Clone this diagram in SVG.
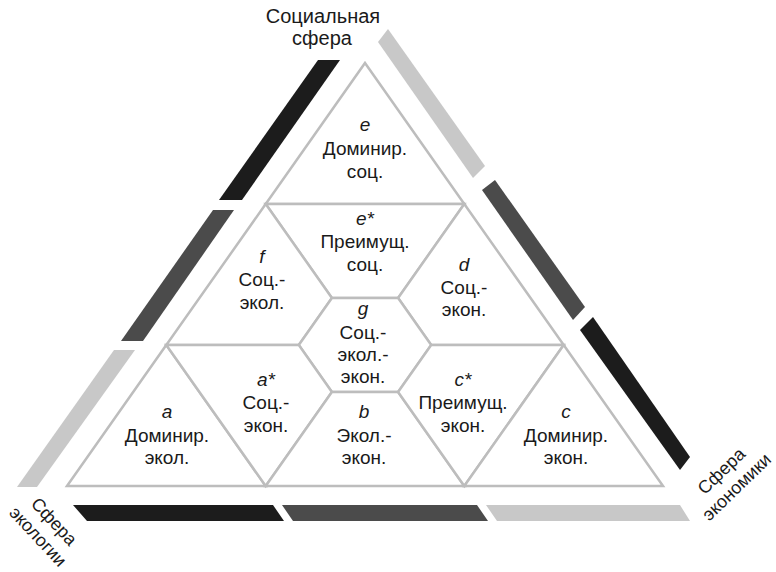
<svg xmlns="http://www.w3.org/2000/svg" width="776" height="572" viewBox="0 0 776 572">
<style>
.r{fill:#fff;stroke:#bdbdbd;stroke-width:2.5;stroke-linejoin:miter}
text{font-family:"Liberation Sans",Arial,sans-serif;font-size:19px;fill:#1a1a1a;text-anchor:middle}
.i{font-style:italic}
.lab{font-size:20px}
.rot{font-size:18px}
.lg{fill:#c8c8c8}.dg{fill:#4b4b4b}.bk{fill:#1c1c1c}
</style>
<rect width="776" height="572" fill="#fff"/>
<g id="bars">
<polygon class="lg" points="17,487 37,487 135,350 114,350"/>
<polygon class="dg" points="121,341 143,341 234,210 213,210"/>
<polygon class="bk" points="219,200 242,200 340,60 318,60"/>
<polygon class="lg" points="378,42 388,29 485,166 473,178"/>
<polygon class="dg" points="482,190 495,180 585,307 573,320"/>
<polygon class="bk" points="580,330 593,317 690,457 680,470"/>
<polygon class="bk" points="73,505 273,505 284,521 87,521"/>
<polygon class="dg" points="282,505 477,505 488,521 293,521"/>
<polygon class="lg" points="486,505 680,505 690,521 497,521"/>
</g>
<g id="e"><polygon class="r" points="365,63 464.3,204 265.7,204"/>
<text x="365" y="131" class="i">e</text><text x="365" y="155">Доминир.</text><text x="365" y="178">соц.</text></g>
<g id="e-star"><polygon class="r" points="265.7,204 464.3,204 398.1,298 331.9,298"/>
<text x="365" y="225" class="i">e*</text><text x="365" y="248">Преимущ.</text><text x="365" y="271">соц.</text></g>
<g id="f"><polygon class="r" points="265.7,204 331.9,298 298.8,345 166.3,345"/>
<text x="262" y="263" class="i">f</text><text x="262" y="286">Соц.-</text><text x="262" y="309">экол.</text></g>
<g id="d"><polygon class="r" points="464.3,204 563.7,345 431.2,345 398.1,298"/>
<text x="464" y="271" class="i">d</text><text x="464" y="294">Соц.-</text><text x="464" y="316">экон.</text></g>
<g id="g"><polygon class="r" points="331.9,298 398.1,298 431.2,345 398.1,392 331.9,392 298.8,345"/>
<text x="363" y="315" class="i">g</text><text x="363" y="339">Соц.-</text><text x="363" y="361">экол.-</text><text x="363" y="383">экон.</text></g>
<g id="a"><polygon class="r" points="67,486 166.3,345 265.7,486"/>
<text x="167" y="418" class="i">a</text><text x="167" y="442">Доминир.</text><text x="167" y="464">экол.</text></g>
<g id="a-star"><polygon class="r" points="166.3,345 298.8,345 331.9,392 265.7,486"/>
<text x="266" y="386" class="i">a*</text><text x="266" y="409">Соц.-</text><text x="266" y="432">экон.</text></g>
<g id="b"><polygon class="r" points="331.9,392 398.1,392 464.3,486 265.7,486"/>
<text x="364" y="418" class="i">b</text><text x="364" y="442">Экол.-</text><text x="364" y="464">экон.</text></g>
<g id="c-star"><polygon class="r" points="431.2,345 563.7,345 464.3,486 398.1,392"/>
<text x="463" y="386" class="i">c*</text><text x="463" y="409">Преимущ.</text><text x="463" y="432">экон.</text></g>
<g id="c"><polygon class="r" points="563.7,345 663,486 464.3,486"/>
<text x="566" y="418" class="i">c</text><text x="566" y="442">Доминир.</text><text x="566" y="464">экон.</text></g>
<g id="social"><text class="lab" x="323" y="23">Социальная</text><text class="lab" x="322" y="45">сфера</text></g>
<g id="ecology" transform="translate(46,529) rotate(47)"><text class="rot" x="0" y="-5">Сфера</text><text class="rot" x="0" y="17">экологии</text></g>
<g id="economy" transform="translate(729,479) rotate(-44)"><text class="rot" x="0" y="-5">Сфера</text><text class="rot" x="0" y="17">экономики</text></g>
</svg>
